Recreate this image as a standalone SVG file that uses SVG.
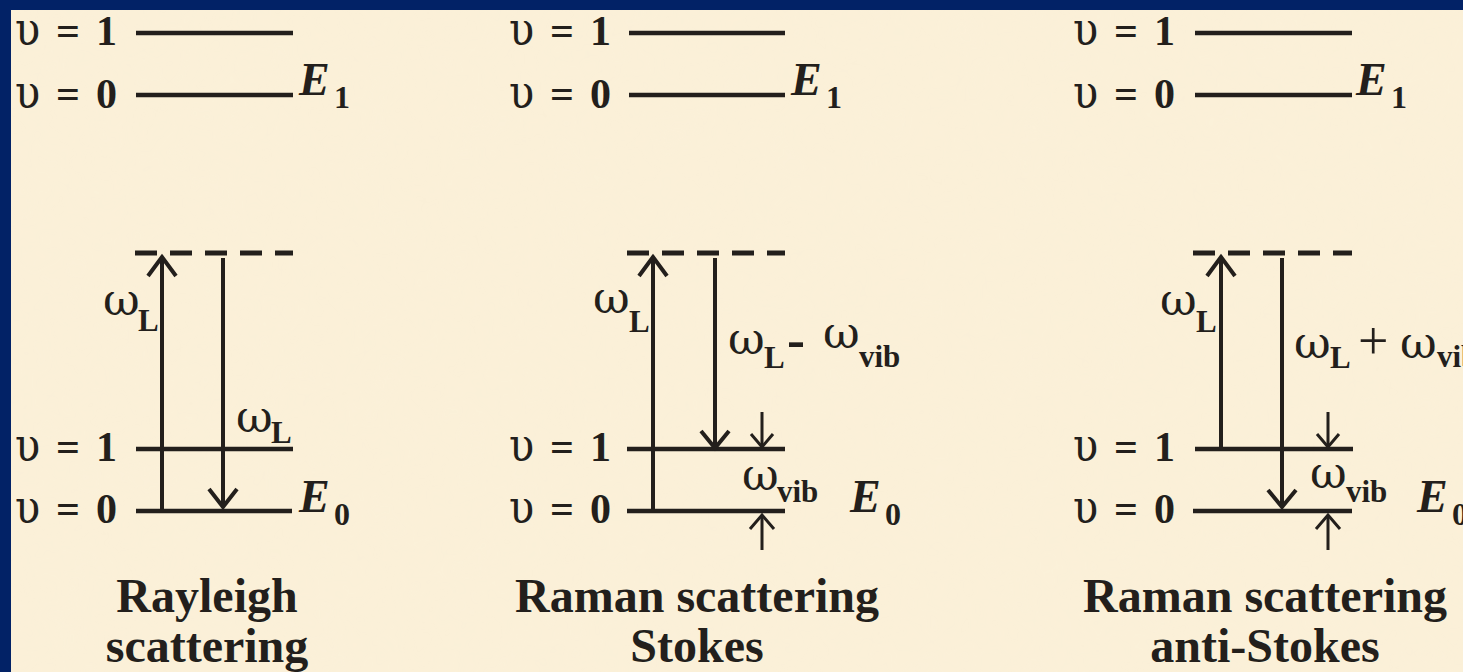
<svg xmlns="http://www.w3.org/2000/svg" width="1463" height="672" viewBox="0 0 1463 672">
<style>
  .lvl{stroke:#231f1c;stroke-width:4.5;fill:none}
  .dash{stroke:#231f1c;stroke-width:5;fill:none;stroke-dasharray:22 13}
  .arr{stroke:#231f1c;stroke-width:4;fill:none}
  .sm{stroke:#231f1c;stroke-width:3;fill:none}
  .t{font-family:"Liberation Serif","Times New Roman",serif;fill:#231f1c}
  .lab{font-size:42px;font-weight:bold}
  .ups{font-family:"DejaVu Serif",serif;font-size:46px;font-weight:normal;font-stretch:condensed}
  .om{font-family:"DejaVu Serif",serif;font-size:45px;font-weight:normal}
  .sub{font-size:31px;font-weight:bold}
  .E{font-size:46px;font-weight:bold;font-style:italic}
  .Esub{font-size:32px;font-weight:bold}
  .title{font-size:48px;font-weight:bold;text-anchor:middle}
</style>
<defs>
  <filter id="tex" x="0" y="0" width="100%" height="100%">
    <feTurbulence type="fractalNoise" baseFrequency="0.02" numOctaves="3" seed="4"/>
    <feColorMatrix type="matrix" values="0 0 0 0 0.96  0 0 0 0 0.88  0 0 0 0 0.72  0 0 0 0.5 -0.1"/>
  </filter>
</defs>
<rect x="0" y="0" width="1463" height="672" fill="#022266"/>
<rect x="11" y="10" width="1452" height="662" fill="#fbf0d8"/>
<rect x="11" y="10" width="1452" height="662" filter="url(#tex)" opacity="0.35"/>

<!-- Panel 1: Rayleigh -->
<g id="rayleigh">
  <g id="r-top-levels">
    <line class="lvl" x1="136" y1="33" x2="293" y2="33"/>
    <line class="lvl" x1="136" y1="95" x2="293" y2="95"/>
    <text class="t lab" y="45"><tspan class="ups" x="15">υ</tspan><tspan x="56">=</tspan><tspan x="96">1</tspan></text>
    <text class="t lab" y="108"><tspan class="ups" x="15">υ</tspan><tspan x="56">=</tspan><tspan x="96">0</tspan></text>
    <text class="t E" x="299" y="95">E</text><text class="t Esub" x="334" y="108">1</text>
  </g>
  <g id="r-bottom-levels">
    <line class="dash" x1="135" y1="253" x2="293" y2="253"/>
    <line class="lvl" x1="136" y1="449" x2="293" y2="449"/>
    <line class="lvl" x1="136" y1="511" x2="292" y2="511"/>
    <text class="t lab" y="461"><tspan class="ups" x="15">υ</tspan><tspan x="56">=</tspan><tspan x="96">1</tspan></text>
    <text class="t lab" y="523"><tspan class="ups" x="15">υ</tspan><tspan x="56">=</tspan><tspan x="96">0</tspan></text>
    <text class="t E" x="299" y="512">E</text><text class="t Esub" x="334" y="525">0</text>
  </g>
  <g id="r-labels">
    <text class="t om" x="103" y="315">ω</text><text class="t sub" x="138" y="331">L</text>
    <text class="t om" x="236" y="432">ω</text><text class="t sub" x="271" y="443">L</text>
    <text class="t title" x="207" y="612">Rayleigh</text>
    <text class="t title" x="207" y="662">scattering</text>
  </g>
</g>

<!-- Panel 2: Stokes -->
<g id="stokes">
  <g id="s-top-levels">
    <line class="lvl" x1="629" y1="33" x2="785" y2="33"/>
    <line class="lvl" x1="629" y1="95" x2="785" y2="95"/>
    <text class="t lab" y="45"><tspan class="ups" x="509">υ</tspan><tspan x="550">=</tspan><tspan x="590">1</tspan></text>
    <text class="t lab" y="108"><tspan class="ups" x="509">υ</tspan><tspan x="550">=</tspan><tspan x="590">0</tspan></text>
    <text class="t E" x="791" y="95">E</text><text class="t Esub" x="826" y="108">1</text>
  </g>
  <g id="s-bottom-levels">
    <line class="dash" x1="627" y1="253" x2="785" y2="253"/>
    <line class="lvl" x1="627" y1="449" x2="785" y2="449"/>
    <line class="lvl" x1="627" y1="511" x2="785" y2="511"/>
    <text class="t lab" y="461"><tspan class="ups" x="509">υ</tspan><tspan x="550">=</tspan><tspan x="590">1</tspan></text>
    <text class="t lab" y="523"><tspan class="ups" x="509">υ</tspan><tspan x="550">=</tspan><tspan x="590">0</tspan></text>
    <text class="t E" x="850" y="512">E</text><text class="t Esub" x="885" y="525">0</text>
  </g>
  <g id="s-labels">
    <text class="t om" x="593" y="313">ω</text><text class="t sub" x="629" y="332">L</text>
    <text class="t om" x="728" y="354">ω</text><text class="t sub" x="764" y="368">L</text>
    <text class="t" x="787" y="358" style="font-size:54px;font-weight:bold">-</text>
    <text class="t om" x="823" y="348">ω</text><text class="t sub" x="859" y="367">vib</text>
    <text class="t om" x="742" y="490">ω</text><text class="t sub" x="777" y="502">vib</text>
    <text class="t title" x="697" y="612">Raman scattering</text>
    <text class="t title" x="697" y="662">Stokes</text>
  </g>
</g>

<!-- Panel 3: anti-Stokes -->
<g id="antistokes">
  <g id="a-top-levels">
    <line class="lvl" x1="1195" y1="33" x2="1352" y2="33"/>
    <line class="lvl" x1="1195" y1="95" x2="1352" y2="95"/>
    <text class="t lab" y="45"><tspan class="ups" x="1073">υ</tspan><tspan x="1114">=</tspan><tspan x="1154">1</tspan></text>
    <text class="t lab" y="108"><tspan class="ups" x="1073">υ</tspan><tspan x="1114">=</tspan><tspan x="1154">0</tspan></text>
    <text class="t E" x="1356" y="95">E</text><text class="t Esub" x="1391" y="108">1</text>
  </g>
  <g id="a-bottom-levels">
    <line class="dash" x1="1193" y1="253" x2="1352" y2="253"/>
    <line class="lvl" x1="1195" y1="449" x2="1353" y2="449"/>
    <line class="lvl" x1="1193" y1="511" x2="1352" y2="511"/>
    <text class="t lab" y="461"><tspan class="ups" x="1073">υ</tspan><tspan x="1114">=</tspan><tspan x="1154">1</tspan></text>
    <text class="t lab" y="523"><tspan class="ups" x="1073">υ</tspan><tspan x="1114">=</tspan><tspan x="1154">0</tspan></text>
    <text class="t E" x="1417" y="512">E</text><text class="t Esub" x="1452" y="525">0</text>
  </g>
  <g id="a-labels">
    <text class="t om" x="1160" y="315">ω</text><text class="t sub" x="1196" y="332">L</text>
    <text class="t om" x="1294" y="358">ω</text><text class="t sub" x="1330" y="368">L</text>
    <text class="t" x="1358" y="359" style="font-size:54px">+</text>
    <text class="t om" x="1400" y="358">ω</text><text class="t sub" x="1437" y="367">vib</text>
    <text class="t om" x="1310" y="488">ω</text><text class="t sub" x="1346" y="502">vib</text>
    <text class="t title" x="1265" y="612">Raman scattering</text>
    <text class="t title" x="1265" y="662">anti-Stokes</text>
  </g>
</g>

<!-- Connectors (transitions) -->
<g id="connectors">
  <!-- Rayleigh -->
  <line class="arr" x1="162" y1="511" x2="162" y2="258"/>
  <polyline class="arr" points="148,276 162,257 176,276"/>
  <line class="arr" x1="223" y1="258" x2="223" y2="506"/>
  <polyline class="arr" points="209,489 223,507 237,489"/>
  <!-- Stokes -->
  <line class="arr" x1="653" y1="511" x2="653" y2="258"/>
  <polyline class="arr" points="639,276 653,257 667,276"/>
  <line class="arr" x1="715" y1="258" x2="715" y2="446"/>
  <polyline class="arr" points="701,431 715,448 729,431"/>
  <line class="sm" x1="762" y1="412" x2="762" y2="446"/>
  <polyline class="sm" points="751,434 762,447 773,434"/>
  <line class="sm" x1="762" y1="550" x2="762" y2="516"/>
  <polyline class="sm" points="750,529 762,515 774,529"/>
  <!-- anti-Stokes -->
  <line class="arr" x1="1221" y1="449" x2="1221" y2="258"/>
  <polyline class="arr" points="1207,276 1221,257 1235,276"/>
  <line class="arr" x1="1282" y1="258" x2="1282" y2="506"/>
  <polyline class="arr" points="1268,490 1282,507 1296,490"/>
  <line class="sm" x1="1328" y1="412" x2="1328" y2="446"/>
  <polyline class="sm" points="1317,434 1328,447 1339,434"/>
  <line class="sm" x1="1328" y1="550" x2="1328" y2="516"/>
  <polyline class="sm" points="1316,529 1328,515 1340,529"/>
</g>
</svg>
